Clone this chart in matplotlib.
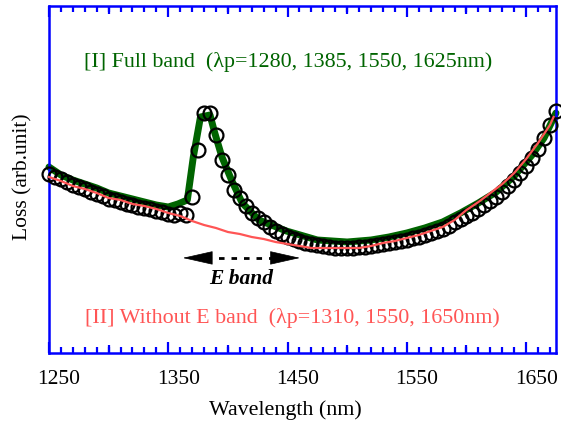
import matplotlib
matplotlib.use("Agg")
import matplotlib.pyplot as plt
import matplotlib.transforms as mtransforms

plt.rcParams['font.family'] = ['Liberation Serif', 'DejaVu Serif']

# measured loss (open circles), 5 nm steps
meas_wl = list(range(1250, 1680, 5))
meas_loss = [
    17.9, 17.6, 17.4, 17.1, 16.8, 16.6, 16.4, 16.1, 15.9, 15.7,
    15.4, 15.3, 15.1, 14.9, 14.8, 14.6, 14.5, 14.4, 14.2, 14.1,
    13.9, 13.8, 14.0, 13.8, 15.6, 20.3, 24.0, 24.0, 21.8, 19.3,
    17.8, 16.3, 15.5, 14.7, 14.0, 13.5, 13.1, 12.6, 12.2, 11.9,
    11.6, 11.4, 11.2, 11.0, 10.9, 10.8, 10.7, 10.6, 10.5, 10.5,
    10.5, 10.5, 10.6, 10.6, 10.7, 10.8, 10.9, 11.0, 11.1, 11.2,
    11.3, 11.5, 11.6, 11.8, 12.0, 12.2, 12.4, 12.7, 13.1, 13.4,
    13.7, 14.0, 14.4, 14.8, 15.2, 15.6, 16.1, 16.7, 17.3, 18.0,
    18.7, 19.5, 20.4, 21.5, 22.8, 24.2,
]

# [I] full band (thick green)
full_wl = [1250, 1260, 1270, 1280, 1290, 1300, 1310, 1320, 1330, 1340,
           1350, 1358, 1366, 1371, 1377, 1385, 1389, 1395, 1403, 1412,
           1426, 1449, 1475, 1500, 1520, 1535, 1550, 1565, 1580, 1595,
           1610, 1625, 1640, 1655, 1665, 1675]
full_loss = [18.6, 17.8, 17.3, 16.9, 16.5, 16.0, 15.7, 15.4, 15.1, 14.8,
             14.6, 14.9, 15.3, 19.6, 23.6, 23.8, 22.0, 19.6, 17.3, 15.0,
             13.3, 12.2, 11.3, 11.1, 11.3, 11.6, 12.0, 12.5, 13.1, 14.0,
             15.0, 16.1, 17.7, 19.8, 21.5, 24.0]

# [II] without E band (red)
noe_wl = [1250, 1260, 1270, 1280, 1290, 1300, 1310, 1320, 1330, 1340,
          1350, 1360, 1370, 1380, 1390, 1400, 1410, 1420, 1430, 1440,
          1450, 1460, 1470, 1480, 1490, 1500, 1510, 1520, 1530, 1540,
          1550, 1560, 1570, 1580, 1590, 1600, 1610, 1620, 1630, 1640,
          1650, 1660, 1670, 1673]
noe_loss = [17.6, 17.2, 16.7, 16.4, 16.0, 15.5, 15.3, 14.9, 14.7, 14.4,
            14.0, 13.7, 13.2, 12.8, 12.5, 12.1, 11.9, 11.6, 11.4, 11.1,
            10.9, 10.7, 10.5, 10.5, 10.5, 10.5, 10.5, 10.7, 11.0, 11.2,
            11.5, 11.8, 12.2, 12.6, 13.3, 14.3, 15.1, 16.0, 16.9, 18.0,
            19.4, 21.0, 22.8, 23.6]

xticks = [1250, 1350, 1450, 1550, 1650]

fig = plt.figure(figsize=(5.61, 4.25), dpi=100)
ax = fig.add_axes([0.0873, 0.1694, 0.9037, 0.8165])

green = '#006400'
red = '#ff5555'
blue = '#0000ff'

ax.plot(full_wl, full_loss, color=green, lw=5, solid_capstyle='round',
        solid_joinstyle='round', clip_on=False, zorder=2)
ax.plot(meas_wl, meas_loss, ls='none', marker='o', ms=10, mfc='none',
        mec='k', mew=1.6, clip_on=False, zorder=3)
ax.plot(noe_wl, noe_loss, color=red, lw=1.6, clip_on=False, zorder=4)

ax.set_xlim(1250, 1675)
ax.set_ylim(0, 34.7)
ax.set_xticks(xticks)
ax.set_xticks(range(1250, 1680, 10), minor=True)
ax.set_yticks([])

for s in ax.spines.values():
    s.set_color(blue)
    s.set_linewidth(1.8)

ax.tick_params(axis='x', which='both', direction='in', top=True,
               color=blue, width=1.6, labelsize=15.5, pad=12)
ax.tick_params(axis='x', which='major', length=8)
ax.tick_params(axis='x', which='minor', length=4)

# long ticks also at the unlabelled 50 nm marks
for wl in range(1300, 1680, 100):
    ax.plot([wl, wl], [0, 0.8], color=blue, lw=1.6,
            solid_capstyle='butt', zorder=5)
    ax.plot([wl, wl], [34.7, 33.9], color=blue, lw=1.6,
            solid_capstyle='butt', zorder=5)

offset = mtransforms.ScaledTranslation(0.10, 0, fig.dpi_scale_trans)
for lab in ax.get_xticklabels():
    lab.set_transform(lab.get_transform() + offset)

ax.set_xlabel('Wavelength (nm)', fontsize=15.8)
ax.xaxis.set_label_coords(0.467, -0.135)
ax.set_ylabel('Loss (arb.unit)', fontsize=15.5)
ax.yaxis.set_label_coords(-0.032, 0.507)

ax.text(0.471, 0.839, '[I] Full band  (\u03bbp=1280, 1385, 1550, 1625nm)',
        transform=ax.transAxes, color=green, fontsize=15.8,
        ha='center', va='center')
ax.text(0.481, 0.101, '[II] Without E band  (\u03bbp=1310, 1550, 1650nm)',
        transform=ax.transAxes, color=red, fontsize=15.8,
        ha='center', va='center')
ax.text(0.379, 0.213, 'E band', transform=ax.transAxes, fontsize=15.5,
        fontweight='bold', fontstyle='italic', ha='center', va='center')

# double arrow with dotted shaft
ay = 0.274
ax.plot([0.31, 0.44], [ay, ay], transform=ax.transAxes, color='k', lw=2,
        ls=(0, (2, 2.5)))
head = dict(arrowstyle='-|>,head_length=2.0,head_width=0.45', color='k',
            lw=0.5, shrinkA=0, shrinkB=0)
ax.annotate('', xy=(0.264, ay), xytext=(0.32, ay), xycoords='axes fraction',
            textcoords='axes fraction', arrowprops=head)
ax.annotate('', xy=(0.495, ay), xytext=(0.44, ay), xycoords='axes fraction',
            textcoords='axes fraction', arrowprops=head)

fig.savefig('out.png', dpi=100)
